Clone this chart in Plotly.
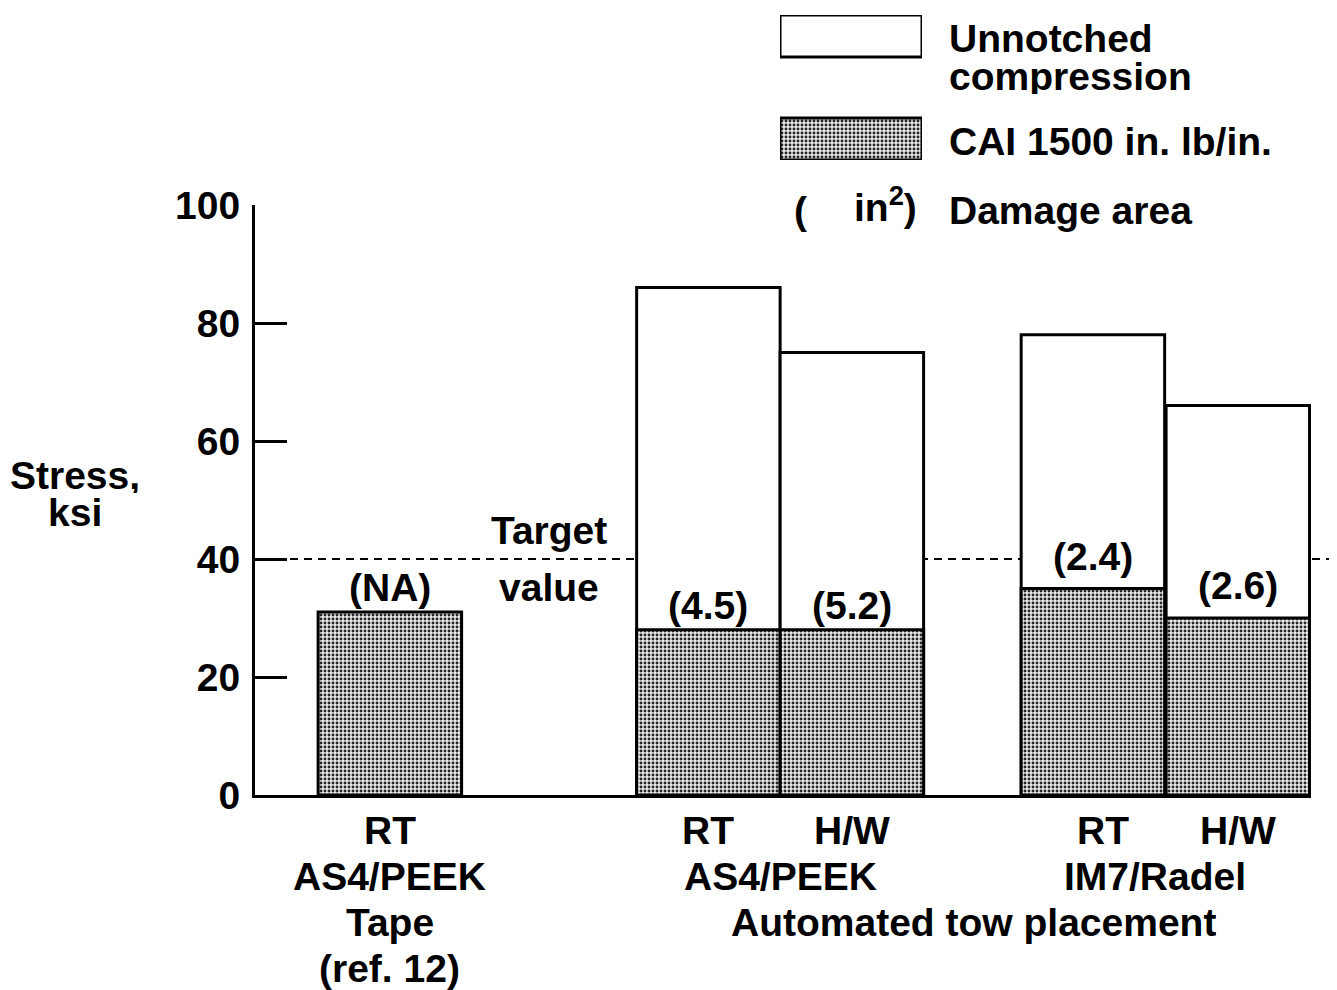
import plotly.graph_objects as go

# ---- data ----
bar_positions = [0.94, 3.16, 4.16, 5.84, 6.85]
unnotched = [None, 86, 75, 78, 66]
cai = [31, 28, 28, 35, 30]
damage_labels = ["(NA)", "(4.5)", "(5.2)", "(2.4)", "(2.6)"]
damage_yshift = [25, 24, 24, 32, 33]
target_value = 40
y_ticks = [0, 20, 40, 60, 80, 100]

row1 = ["RT", "RT", "H/W", "RT", "H/W"]
row1_xshift = [0, 0, 0, 10, 0]
group_labels = [("AS4/PEEK", 0.94), ("AS4/PEEK", 3.66), ("IM7/Radel", 6.27)]
row3 = [("Tape", 0.94), ("Automated tow placement", 5.01)]
row4 = [("(ref. 12)", 0.94)]

FONT = "Liberation Sans"
FS = 39
W, H = 1337, 990
OFF = 8  # page body margin offset
LEFT, RIGHT, TOP, BOTTOM = 255, 1311, 0, 795  # page pixels of the plot frame
ML = LEFT - OFF
MR = W - (RIGHT - OFF)
MT = 0
MB = H - (BOTTOM - OFF)
PW, PH = W - ML - MR, H - MT - MB


def py(pix):  # page pixel row -> paper y
    return (PH - (pix - OFF)) / PH


def px(pix):  # page pixel column -> paper x
    return (pix - OFF - ML) / PW


main_top = py(205)

pattern = dict(shape=".", size=4, solidity=0.42, fgcolor="#262626", bgcolor="#ececec", fillmode="replace")

fig = go.Figure()
fig.add_trace(go.Bar(x=bar_positions, y=unnotched, width=1,
                     marker=dict(color="white", line=dict(color="black", width=3)),
                     name="Unnotched compression"))
fig.add_trace(go.Bar(x=bar_positions, y=cai, width=1,
                     marker=dict(color="#bdbdbd", pattern=pattern, line=dict(color="black", width=3)),
                     name="CAI 1500 in. lb/in."))

# legend boxes on a small hidden axis pair
fig.add_trace(go.Bar(x=[0], y=[42], base=[103], width=1, xaxis="x2", yaxis="y2",
                     marker=dict(color="white", line=dict(color="black", width=3))))
fig.add_trace(go.Bar(x=[0], y=[42], base=[0], width=1, xaxis="x2", yaxis="y2",
                     marker=dict(color="#bdbdbd", pattern=pattern, line=dict(color="black", width=3))))

tf = dict(family=FONT, size=FS, color="black", weight="bold")

fig.update_layout(
    width=W, height=H, margin=dict(l=ML, r=MR, t=MT, b=MB, autoexpand=False),
    paper_bgcolor="white", plot_bgcolor="white",
    barmode="overlay", showlegend=False,
    xaxis=dict(range=[0, 7.36], domain=[0, 1], showline=True, linewidth=3, linecolor="black",
               showticklabels=False, ticks="", showgrid=False, zeroline=False, fixedrange=True),
    yaxis=dict(range=[0, 100], domain=[0, main_top], tickvals=y_ticks, ticks="inside", ticklen=32,
               tickwidth=2.5, tickcolor="black", showline=True, linewidth=3, linecolor="black",
               showgrid=False, zeroline=False, tickfont=tf, ticklabelstandoff=4),
    xaxis2=dict(range=[-0.5, 0.5], domain=[px(780), px(922)], anchor="y2", visible=False),
    yaxis2=dict(range=[0, 145], domain=[py(160), py(15)], anchor="x2", visible=False),
)

fig.add_shape(type="line", xref="paper", yref="y", x0=px(262), x1=px(1340), y0=target_value, y1=target_value,
              line=dict(color="black", width=2, dash="8px,6px"), layer="below")

ann = []


def txt(text, x, y, xref="paper", yref="paper", **kw):
    d = dict(text=text, x=x, y=y, xref=xref, yref=yref, showarrow=False,
             xanchor="center", yanchor="middle",
             font=dict(family=FONT, size=FS, color="black", weight="bold"))
    d.update(kw)
    ann.append(d)


for lab, x, v, s in zip(damage_labels, bar_positions, cai, damage_yshift):
    txt(lab, x, v, xref="x", yref="y", yshift=s)

txt("Target", 2.049, 44.9, xref="x", yref="y")
txt("value", 2.049, 35.25, xref="x", yref="y")

txt("Stress,", px(75), py(475), height=36)
txt("ksi", px(75), py(512), height=36)

for lab, x, s in zip(row1, bar_positions, row1_xshift):
    txt(lab, x, py(830), xref="x", xshift=s, height=44)
for lab, x in group_labels:
    txt(lab, x, py(876), xref="x", height=44)
for lab, x in row3:
    txt(lab, x, py(922), xref="x", height=44)
for lab, x in row4:
    txt(lab, x, py(968), xref="x", height=44)

# legend texts
txt("Unnotched", px(947), py(38), xanchor="left", height=36)
txt("compression", px(947), py(76), xanchor="left", height=36)
txt("CAI 1500 in. lb/in.", px(947), py(142), xanchor="left")
txt("(", px(800), py(210))
txt("in<sup>2</sup>)", px(919), py(205), xanchor="right")
txt("Damage area", px(947), py(210), xanchor="left")

fig.update_layout(annotations=ann)
fig.write_html("out.html")
